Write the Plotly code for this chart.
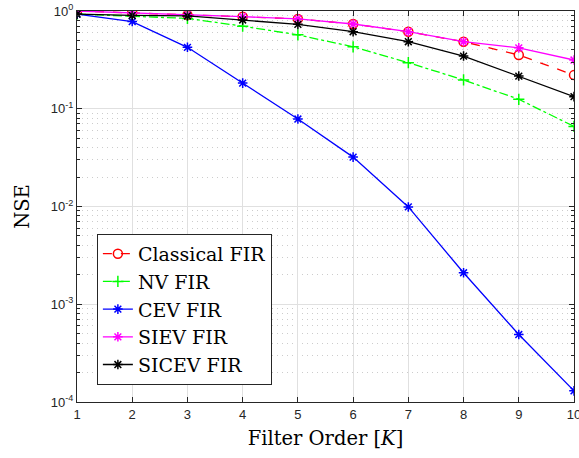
import plotly.graph_objects as go

filter_order = [1, 2, 3, 4, 5, 6, 7, 8, 9, 10]
classical_fir = [1.0, 0.96, 0.91, 0.874, 0.83, 0.736, 0.614, 0.485, 0.355, 0.221]
nv_fir = [0.93, 0.89, 0.84, 0.70, 0.57, 0.43, 0.296, 0.197, 0.125, 0.066]
cev_fir = [0.93, 0.78, 0.425, 0.183, 0.0785, 0.032, 0.0099, 0.0021, 0.00049, 0.00013]
siev_fir = [1.0, 0.96, 0.91, 0.874, 0.83, 0.736, 0.614, 0.485, 0.42, 0.315]
sicev_fir = [0.93, 0.90, 0.89, 0.81, 0.73, 0.614, 0.485, 0.346, 0.216, 0.133]

y_tickvals = [1e-4, 1e-3, 1e-2, 1e-1, 1]
y_ticktext = ["10<sup>-4</sup>", "10<sup>-3</sup>", "10<sup>-2</sup>", "10<sup>-1</sup>", "10<sup>0</sup>"]
y_minor_vals = [m * 10 ** e for e in range(-4, 0) for m in range(2, 10)]

series = [
    ("Classical FIR", classical_fir, "#ff0000", "dash", "circle-open"),
    ("NV FIR", nv_fir, "#00ff00", "dashdot", "cross-thin-open"),
    ("CEV FIR", cev_fir, "#0000ff", "solid", "asterisk-open"),
    ("SIEV FIR", siev_fir, "#ff00ff", "solid", "asterisk-open"),
    ("SICEV FIR", sicev_fir, "#000000", "solid", "asterisk-open"),
]

fig = go.Figure()
for name, vals, color, dash, sym in series:
    fig.add_trace(go.Scatter(
        x=filter_order, y=vals, name=name, mode="lines+markers",
        line=dict(color=color, width=1.3, dash=dash),
        marker=dict(symbol=sym, size=9 if sym == "circle-open" else 8,
                    color=color, line=dict(color=color, width=1.5)),
    ))

axis_color = "#262626"
serif = "DejaVu Serif, serif"
fig.update_layout(
    width=579, height=458,
    margin=dict(l=77, r=5, t=11, b=56, autoexpand=False),
    paper_bgcolor="white", plot_bgcolor="white",
    font=dict(family="Liberation Sans, Arial", color=axis_color),
    legend=dict(
        x=0.04, y=0.43, xanchor="left", yanchor="top",
        bgcolor="white", bordercolor=axis_color, borderwidth=1,
        font=dict(family=serif, size=19, color="#000000"),
        tracegroupgap=0,
    ),
    xaxis=dict(
        range=[1, 10], tickmode="array", tickvals=filter_order,
        ticks="inside", ticklen=5, tickcolor=axis_color,
        showline=True, linecolor=axis_color, linewidth=1, mirror="ticks",
        showgrid=True, gridcolor="#e0e0e0", gridwidth=1.3,
        zeroline=False, ticklabeloverflow="allow",
        tickfont=dict(size=13, color=axis_color),
        title=dict(text="Filter Order [<i>K</i>]",
                   font=dict(family=serif, size=19.5, color="#000000"),
                   standoff=10),
    ),
    yaxis=dict(
        type="log", range=[-4, 0],
        tickmode="array", tickvals=y_tickvals, ticktext=y_ticktext,
        ticks="inside", ticklen=5, tickcolor=axis_color,
        showline=True, linecolor=axis_color, linewidth=1, mirror="ticks",
        showgrid=True, gridcolor="#e0e0e0", gridwidth=1.3,
        zeroline=False, ticklabeloverflow="allow",
        tickfont=dict(size=13, color=axis_color),
        minor=dict(tickmode="array", tickvals=y_minor_vals, ticks="inside", ticklen=3,
                   tickcolor=axis_color, showgrid=True, gridcolor="#cccccc",
                   griddash="1px,4px", gridwidth=1.3),
        title=dict(text="NSE",
                   font=dict(family=serif, size=19.5, color="#000000"),
                   standoff=16),
    ),
)

fig.write_html("out.html", config={"displayModeBar": False},
               post_script="document.body.style.margin='0';")
